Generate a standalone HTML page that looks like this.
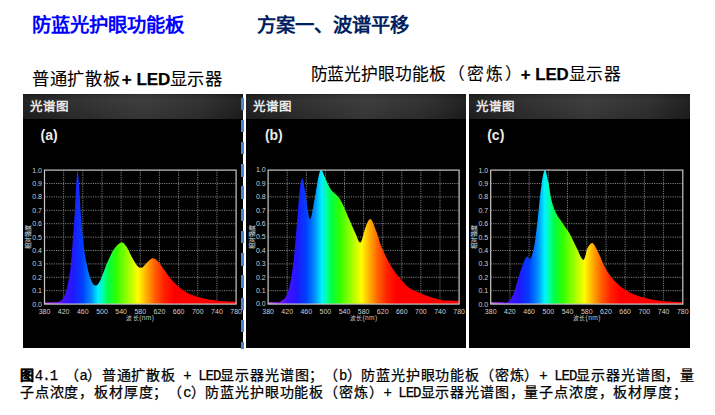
<!DOCTYPE html>
<html lang="zh-CN"><head><meta charset="utf-8">
<style>
html,body{margin:0;padding:0;background:#fff;}
body{width:715px;height:415px;position:relative;overflow:hidden;text-spacing-trim:space-all;font-family:"Liberation Sans",sans-serif;}
.t{position:absolute;white-space:nowrap;line-height:1;}
.panel{position:absolute;top:94px;height:254px;background:#000;overflow:hidden;}
.hdr{position:absolute;left:0;top:0;right:0;height:24.8px;background:linear-gradient(180deg,rgba(0,0,0,0.25) 0px,rgba(0,0,0,0) 1.5px,rgba(255,255,255,0.03) 6px,rgba(0,0,0,0.04) 24px),linear-gradient(90deg,#1e1e1e 0%,#2a2a2a 20%,#383838 55%,#2c2c2c 82%,#1c1c1c 100%);}
.ht{position:absolute;left:7px;top:6.6px;font-size:12.5px;letter-spacing:0px;font-weight:bold;color:#e8e8e8;line-height:1;}
.lab{position:absolute;top:33.6px;font-size:14px;font-weight:bold;color:#ececec;line-height:1;}
.dash{position:absolute;left:241px;width:3px;background:#4a86d0;}
.gap{position:absolute;background:#fff;}
.cap{-webkit-text-stroke:0.25px #000;font-size:14px;letter-spacing:0.83px;color:#000;}
.m{font-family:"Liberation Mono",monospace;font-size:14px;letter-spacing:-0.97px;}
</style></head><body>
<div class="t" style="left:31.5px;top:16px;font-size:19.3px;font-weight:bold;color:#0000ff;">防蓝光护眼功能板</div>
<div class="t" style="left:257px;top:16px;font-size:19.3px;font-weight:bold;color:#002060;">方案一、波谱平移</div>
<div class="t" style="left:32px;top:71px;font-size:17.3px;color:#000;-webkit-text-stroke:0.1px #000;"><span style="letter-spacing:0.65px">普通扩散</span>板 <b style="font-size:17px;margin-left:-2.7px;-webkit-text-stroke:0.25px #000;">+ LED</b><span style="letter-spacing:0.1px">显示</span>器</div>
<div class="t" style="left:310.5px;top:67px;font-size:16.8px;color:#000;-webkit-text-stroke:0.1px #000;letter-spacing:-0.1px;">防蓝光护眼功能板 <span style="margin-left:-2px;letter-spacing:2px">（密炼</span>）<b style="font-size:16.8px;margin-left:-1.5px;letter-spacing:0;-webkit-text-stroke:0.25px #000;">+ LED</b><span style="letter-spacing:0.4px">显示</span>器</div>
<div class="panel" style="left:23px;width:219.50px">
<div class="hdr"><span class="ht">光谱图</span></div>
<svg width="219.50" height="254" viewBox="0 0 219.50 254" style="position:absolute;left:0;top:0">
<defs><linearGradient id="spa" gradientUnits="userSpaceOnUse" x1="21.50" y1="0" x2="213.10" y2="0">
<stop offset="0.0000" stop-color="#d060e0"/>
<stop offset="0.0375" stop-color="#a030f0"/>
<stop offset="0.0750" stop-color="#7010f8"/>
<stop offset="0.1000" stop-color="#4410ff"/>
<stop offset="0.1500" stop-color="#2018ff"/>
<stop offset="0.2000" stop-color="#0040ff"/>
<stop offset="0.2450" stop-color="#0090ff"/>
<stop offset="0.2800" stop-color="#00f0ff"/>
<stop offset="0.3050" stop-color="#00ffa8"/>
<stop offset="0.3300" stop-color="#00ff48"/>
<stop offset="0.3750" stop-color="#30ff00"/>
<stop offset="0.4375" stop-color="#a0ff00"/>
<stop offset="0.4875" stop-color="#ffff00"/>
<stop offset="0.5300" stop-color="#ffb000"/>
<stop offset="0.5750" stop-color="#ff6000"/>
<stop offset="0.6250" stop-color="#ff2000"/>
<stop offset="0.6750" stop-color="#ff0000"/>
<stop offset="1.0000" stop-color="#ff0000"/>
</linearGradient></defs>
<line x1="21.50" y1="89.50" x2="213.10" y2="89.50" stroke="#8a8a8a" stroke-width="0.9" stroke-dasharray="1.2,1.1"/>
<line x1="21.50" y1="102.90" x2="213.10" y2="102.90" stroke="#8a8a8a" stroke-width="0.9" stroke-dasharray="1.2,1.1"/>
<line x1="21.50" y1="116.30" x2="213.10" y2="116.30" stroke="#8a8a8a" stroke-width="0.9" stroke-dasharray="1.2,1.1"/>
<line x1="21.50" y1="129.70" x2="213.10" y2="129.70" stroke="#8a8a8a" stroke-width="0.9" stroke-dasharray="1.2,1.1"/>
<line x1="21.50" y1="143.10" x2="213.10" y2="143.10" stroke="#8a8a8a" stroke-width="0.9" stroke-dasharray="1.2,1.1"/>
<line x1="21.50" y1="156.50" x2="213.10" y2="156.50" stroke="#8a8a8a" stroke-width="0.9" stroke-dasharray="1.2,1.1"/>
<line x1="21.50" y1="169.90" x2="213.10" y2="169.90" stroke="#8a8a8a" stroke-width="0.9" stroke-dasharray="1.2,1.1"/>
<line x1="21.50" y1="183.30" x2="213.10" y2="183.30" stroke="#8a8a8a" stroke-width="0.9" stroke-dasharray="1.2,1.1"/>
<line x1="21.50" y1="196.70" x2="213.10" y2="196.70" stroke="#8a8a8a" stroke-width="0.9" stroke-dasharray="1.2,1.1"/>
<line x1="40.66" y1="76.10" x2="40.66" y2="210.10" stroke="#8a8a8a" stroke-width="0.9" stroke-dasharray="1.2,1.1"/>
<line x1="59.82" y1="76.10" x2="59.82" y2="210.10" stroke="#8a8a8a" stroke-width="0.9" stroke-dasharray="1.2,1.1"/>
<line x1="78.98" y1="76.10" x2="78.98" y2="210.10" stroke="#8a8a8a" stroke-width="0.9" stroke-dasharray="1.2,1.1"/>
<line x1="98.14" y1="76.10" x2="98.14" y2="210.10" stroke="#8a8a8a" stroke-width="0.9" stroke-dasharray="1.2,1.1"/>
<line x1="117.30" y1="76.10" x2="117.30" y2="210.10" stroke="#8a8a8a" stroke-width="0.9" stroke-dasharray="1.2,1.1"/>
<line x1="136.46" y1="76.10" x2="136.46" y2="210.10" stroke="#8a8a8a" stroke-width="0.9" stroke-dasharray="1.2,1.1"/>
<line x1="155.62" y1="76.10" x2="155.62" y2="210.10" stroke="#8a8a8a" stroke-width="0.9" stroke-dasharray="1.2,1.1"/>
<line x1="174.78" y1="76.10" x2="174.78" y2="210.10" stroke="#8a8a8a" stroke-width="0.9" stroke-dasharray="1.2,1.1"/>
<line x1="193.94" y1="76.10" x2="193.94" y2="210.10" stroke="#8a8a8a" stroke-width="0.9" stroke-dasharray="1.2,1.1"/>
<path d="M21.50,208.49 C23.10,208.47 28.53,208.58 31.08,208.36 C33.63,208.13 35.23,207.98 36.83,207.15 C38.42,206.33 39.46,205.59 40.66,203.40 C41.86,201.21 42.86,199.16 44.01,194.02 C45.17,188.88 46.41,183.75 47.61,172.58 C48.80,161.41 50.28,140.42 51.20,127.02 C52.12,113.62 52.56,100.55 53.11,92.18 C53.67,83.80 54.07,77.22 54.55,76.77 C55.03,76.32 55.40,81.73 55.99,89.50 C56.58,97.27 57.16,111.92 58.10,123.40 C59.03,134.88 60.13,148.48 61.59,158.38 C63.05,168.27 65.11,177.25 66.86,182.76 C68.61,188.28 70.33,190.89 72.08,191.47 C73.83,192.05 75.32,190.07 77.35,186.25 C79.38,182.43 81.93,173.81 84.25,168.56 C86.56,163.31 88.90,158.11 91.24,154.76 C93.58,151.41 96.26,148.84 98.28,148.46 C100.31,148.08 101.52,149.80 103.41,152.48 C105.30,155.16 107.80,161.30 109.64,164.54 C111.47,167.78 112.88,170.39 114.43,171.91 C115.97,173.43 117.29,174.26 118.93,173.65 C120.57,173.05 122.47,169.86 124.25,168.29 C126.02,166.73 127.79,164.45 129.56,164.27 C131.33,164.09 132.88,165.23 134.88,167.22 C136.88,169.21 139.10,172.94 141.54,176.20 C143.97,179.46 146.40,183.46 149.49,186.78 C152.58,190.11 156.55,193.73 160.07,196.16 C163.60,198.60 167.12,199.98 170.66,201.39 C174.20,202.80 177.31,203.71 181.29,204.61 C185.28,205.50 190.86,206.28 194.56,206.75 C198.27,207.22 200.83,207.31 203.52,207.42 C206.21,207.53 209.11,207.31 210.71,207.42 C212.30,207.53 212.70,207.98 213.10,208.09 L213.10,210.10 L21.50,210.10 Z" fill="url(#spa)"/>
<rect x="21.50" y="76.10" width="191.60" height="134.00" fill="none" stroke="#c8c8c8" stroke-width="1.2"/>
<text x="19.00" y="212.50" text-anchor="end" font-size="7" fill="#d0d0d0">0.0</text>
<text x="19.00" y="199.10" text-anchor="end" font-size="7" fill="#d0d0d0">0.1</text>
<text x="19.00" y="185.70" text-anchor="end" font-size="7" fill="#d0d0d0">0.2</text>
<text x="19.00" y="172.30" text-anchor="end" font-size="7" fill="#d0d0d0">0.3</text>
<text x="19.00" y="158.90" text-anchor="end" font-size="7" fill="#d0d0d0">0.4</text>
<text x="19.00" y="145.50" text-anchor="end" font-size="7" fill="#d0d0d0">0.5</text>
<text x="19.00" y="132.10" text-anchor="end" font-size="7" fill="#d0d0d0">0.6</text>
<text x="19.00" y="118.70" text-anchor="end" font-size="7" fill="#d0d0d0">0.7</text>
<text x="19.00" y="105.30" text-anchor="end" font-size="7" fill="#d0d0d0">0.8</text>
<text x="19.00" y="91.90" text-anchor="end" font-size="7" fill="#d0d0d0">0.9</text>
<text x="19.00" y="78.50" text-anchor="end" font-size="7" fill="#d0d0d0">1.0</text>
<text x="21.50" y="220.10" text-anchor="middle" font-size="7" fill="#d0d0d0">380</text>
<text x="40.66" y="220.10" text-anchor="middle" font-size="7" fill="#d0d0d0">420</text>
<text x="59.82" y="220.10" text-anchor="middle" font-size="7" fill="#d0d0d0">460</text>
<text x="78.98" y="220.10" text-anchor="middle" font-size="7" fill="#d0d0d0">500</text>
<text x="98.14" y="220.10" text-anchor="middle" font-size="7" fill="#d0d0d0">540</text>
<text x="117.30" y="220.10" text-anchor="middle" font-size="7" fill="#d0d0d0">580</text>
<text x="136.46" y="220.10" text-anchor="middle" font-size="7" fill="#d0d0d0">620</text>
<text x="155.62" y="220.10" text-anchor="middle" font-size="7" fill="#d0d0d0">660</text>
<text x="174.78" y="220.10" text-anchor="middle" font-size="7" fill="#d0d0d0">700</text>
<text x="193.94" y="220.10" text-anchor="middle" font-size="7" fill="#d0d0d0">740</text>
<text x="213.10" y="220.10" text-anchor="middle" font-size="7" fill="#d0d0d0">780</text>
<text x="117.30" y="226.40" text-anchor="middle" font-size="6.6" letter-spacing="0.4" fill="#c8c8c8"><tspan font-size="5.8">波长</tspan>(nm)</text>
<text transform="translate(7.00,143.10) rotate(-90)" text-anchor="middle" font-size="6" fill="#c8c8c8" stroke="#c8c8c8" stroke-width="0.15">相对强度</text>
</svg>
<div class="lab" style="left:17.60px">(a)</div>
</div>
<div class="panel" style="left:245.7px;width:220.30px">
<div class="hdr"><span class="ht">光谱图</span></div>
<svg width="220.30" height="254" viewBox="0 0 220.30 254" style="position:absolute;left:0;top:0">
<defs><linearGradient id="spb" gradientUnits="userSpaceOnUse" x1="22.10" y1="0" x2="213.10" y2="0">
<stop offset="0.0000" stop-color="#d060e0"/>
<stop offset="0.0375" stop-color="#a030f0"/>
<stop offset="0.0750" stop-color="#7010f8"/>
<stop offset="0.1000" stop-color="#4410ff"/>
<stop offset="0.1500" stop-color="#2018ff"/>
<stop offset="0.2000" stop-color="#0040ff"/>
<stop offset="0.2450" stop-color="#0090ff"/>
<stop offset="0.2800" stop-color="#00f0ff"/>
<stop offset="0.3050" stop-color="#00ffa8"/>
<stop offset="0.3300" stop-color="#00ff48"/>
<stop offset="0.3750" stop-color="#30ff00"/>
<stop offset="0.4375" stop-color="#a0ff00"/>
<stop offset="0.4875" stop-color="#ffff00"/>
<stop offset="0.5300" stop-color="#ffb000"/>
<stop offset="0.5750" stop-color="#ff6000"/>
<stop offset="0.6250" stop-color="#ff2000"/>
<stop offset="0.6750" stop-color="#ff0000"/>
<stop offset="1.0000" stop-color="#ff0000"/>
</linearGradient></defs>
<line x1="22.10" y1="89.50" x2="213.10" y2="89.50" stroke="#8a8a8a" stroke-width="0.9" stroke-dasharray="1.2,1.1"/>
<line x1="22.10" y1="102.90" x2="213.10" y2="102.90" stroke="#8a8a8a" stroke-width="0.9" stroke-dasharray="1.2,1.1"/>
<line x1="22.10" y1="116.30" x2="213.10" y2="116.30" stroke="#8a8a8a" stroke-width="0.9" stroke-dasharray="1.2,1.1"/>
<line x1="22.10" y1="129.70" x2="213.10" y2="129.70" stroke="#8a8a8a" stroke-width="0.9" stroke-dasharray="1.2,1.1"/>
<line x1="22.10" y1="143.10" x2="213.10" y2="143.10" stroke="#8a8a8a" stroke-width="0.9" stroke-dasharray="1.2,1.1"/>
<line x1="22.10" y1="156.50" x2="213.10" y2="156.50" stroke="#8a8a8a" stroke-width="0.9" stroke-dasharray="1.2,1.1"/>
<line x1="22.10" y1="169.90" x2="213.10" y2="169.90" stroke="#8a8a8a" stroke-width="0.9" stroke-dasharray="1.2,1.1"/>
<line x1="22.10" y1="183.30" x2="213.10" y2="183.30" stroke="#8a8a8a" stroke-width="0.9" stroke-dasharray="1.2,1.1"/>
<line x1="22.10" y1="196.70" x2="213.10" y2="196.70" stroke="#8a8a8a" stroke-width="0.9" stroke-dasharray="1.2,1.1"/>
<line x1="41.20" y1="76.10" x2="41.20" y2="210.10" stroke="#8a8a8a" stroke-width="0.9" stroke-dasharray="1.2,1.1"/>
<line x1="60.30" y1="76.10" x2="60.30" y2="210.10" stroke="#8a8a8a" stroke-width="0.9" stroke-dasharray="1.2,1.1"/>
<line x1="79.40" y1="76.10" x2="79.40" y2="210.10" stroke="#8a8a8a" stroke-width="0.9" stroke-dasharray="1.2,1.1"/>
<line x1="98.50" y1="76.10" x2="98.50" y2="210.10" stroke="#8a8a8a" stroke-width="0.9" stroke-dasharray="1.2,1.1"/>
<line x1="117.60" y1="76.10" x2="117.60" y2="210.10" stroke="#8a8a8a" stroke-width="0.9" stroke-dasharray="1.2,1.1"/>
<line x1="136.70" y1="76.10" x2="136.70" y2="210.10" stroke="#8a8a8a" stroke-width="0.9" stroke-dasharray="1.2,1.1"/>
<line x1="155.80" y1="76.10" x2="155.80" y2="210.10" stroke="#8a8a8a" stroke-width="0.9" stroke-dasharray="1.2,1.1"/>
<line x1="174.90" y1="76.10" x2="174.90" y2="210.10" stroke="#8a8a8a" stroke-width="0.9" stroke-dasharray="1.2,1.1"/>
<line x1="194.00" y1="76.10" x2="194.00" y2="210.10" stroke="#8a8a8a" stroke-width="0.9" stroke-dasharray="1.2,1.1"/>
<path d="M22.10,208.49 C23.29,208.47 27.23,208.49 29.26,208.36 C31.29,208.22 32.29,209.07 34.28,207.69 C36.27,206.30 39.17,205.39 41.20,200.05 C43.23,194.71 44.99,185.53 46.45,175.66 C47.92,165.79 48.82,153.62 49.99,140.82 C51.16,128.03 52.42,108.33 53.47,98.88 C54.52,89.43 55.30,84.14 56.29,84.14 C57.28,84.14 58.12,92.07 59.39,98.88 C60.67,105.69 62.41,123.89 63.93,125.01 C65.45,126.13 67.05,112.84 68.51,105.58 C69.98,98.32 71.55,86.37 72.72,81.46 C73.88,76.55 74.33,75.52 75.48,76.10 C76.64,76.68 78.07,81.73 79.64,84.94 C81.21,88.16 83.15,92.78 84.89,95.40 C86.63,98.01 88.36,98.59 90.10,100.62 C91.83,102.65 93.26,103.82 95.30,107.59 C97.34,111.36 99.99,118.02 102.32,123.27 C104.65,128.52 107.26,134.88 109.29,139.08 C111.32,143.28 112.75,149.58 114.50,148.46 C116.25,147.34 118.09,136.27 119.80,132.38 C121.50,128.49 122.93,124.25 124.71,125.14 C126.50,126.04 128.65,132.96 130.49,137.74 C132.34,142.52 133.57,148.46 135.79,153.82 C138.01,159.18 141.16,165.28 143.81,169.90 C146.46,174.52 148.61,177.67 151.69,181.56 C154.77,185.44 158.76,190.38 162.29,193.22 C165.83,196.05 169.44,197.01 172.89,198.58 C176.35,200.14 179.50,201.41 183.02,202.60 C186.54,203.78 190.74,205.01 194.00,205.68 C197.26,206.35 199.41,206.42 202.60,206.62 C205.78,206.82 211.35,206.84 213.10,206.88 L213.10,210.10 L22.10,210.10 Z" fill="url(#spb)"/>
<rect x="22.10" y="76.10" width="191.00" height="134.00" fill="none" stroke="#c8c8c8" stroke-width="1.2"/>
<text x="19.60" y="212.50" text-anchor="end" font-size="7" fill="#d0d0d0">0.0</text>
<text x="19.60" y="199.10" text-anchor="end" font-size="7" fill="#d0d0d0">0.1</text>
<text x="19.60" y="185.70" text-anchor="end" font-size="7" fill="#d0d0d0">0.2</text>
<text x="19.60" y="172.30" text-anchor="end" font-size="7" fill="#d0d0d0">0.3</text>
<text x="19.60" y="158.90" text-anchor="end" font-size="7" fill="#d0d0d0">0.4</text>
<text x="19.60" y="145.50" text-anchor="end" font-size="7" fill="#d0d0d0">0.5</text>
<text x="19.60" y="132.10" text-anchor="end" font-size="7" fill="#d0d0d0">0.6</text>
<text x="19.60" y="118.70" text-anchor="end" font-size="7" fill="#d0d0d0">0.7</text>
<text x="19.60" y="105.30" text-anchor="end" font-size="7" fill="#d0d0d0">0.8</text>
<text x="19.60" y="91.90" text-anchor="end" font-size="7" fill="#d0d0d0">0.9</text>
<text x="19.60" y="78.50" text-anchor="end" font-size="7" fill="#d0d0d0">1.0</text>
<text x="22.10" y="220.10" text-anchor="middle" font-size="7" fill="#d0d0d0">380</text>
<text x="41.20" y="220.10" text-anchor="middle" font-size="7" fill="#d0d0d0">420</text>
<text x="60.30" y="220.10" text-anchor="middle" font-size="7" fill="#d0d0d0">460</text>
<text x="79.40" y="220.10" text-anchor="middle" font-size="7" fill="#d0d0d0">500</text>
<text x="98.50" y="220.10" text-anchor="middle" font-size="7" fill="#d0d0d0">540</text>
<text x="117.60" y="220.10" text-anchor="middle" font-size="7" fill="#d0d0d0">580</text>
<text x="136.70" y="220.10" text-anchor="middle" font-size="7" fill="#d0d0d0">620</text>
<text x="155.80" y="220.10" text-anchor="middle" font-size="7" fill="#d0d0d0">660</text>
<text x="174.90" y="220.10" text-anchor="middle" font-size="7" fill="#d0d0d0">700</text>
<text x="194.00" y="220.10" text-anchor="middle" font-size="7" fill="#d0d0d0">740</text>
<text x="213.10" y="220.10" text-anchor="middle" font-size="7" fill="#d0d0d0">780</text>
<text x="117.60" y="226.40" text-anchor="middle" font-size="6.6" letter-spacing="0.4" fill="#c8c8c8"><tspan font-size="5.8">波长</tspan>(nm)</text>
<text transform="translate(7.60,143.10) rotate(-90)" text-anchor="middle" font-size="6" fill="#c8c8c8" stroke="#c8c8c8" stroke-width="0.15">相对强度</text>
</svg>
<div class="lab" style="left:19.20px">(b)</div>
</div>
<div class="panel" style="left:468.7px;width:221.00px">
<div class="hdr"><span class="ht">光谱图</span></div>
<svg width="221.00" height="254" viewBox="0 0 221.00 254" style="position:absolute;left:0;top:0">
<defs><linearGradient id="spc" gradientUnits="userSpaceOnUse" x1="21.70" y1="0" x2="213.80" y2="0">
<stop offset="0.0000" stop-color="#d060e0"/>
<stop offset="0.0375" stop-color="#a030f0"/>
<stop offset="0.0750" stop-color="#7010f8"/>
<stop offset="0.1000" stop-color="#4410ff"/>
<stop offset="0.1500" stop-color="#2018ff"/>
<stop offset="0.2000" stop-color="#0040ff"/>
<stop offset="0.2450" stop-color="#0090ff"/>
<stop offset="0.2800" stop-color="#00f0ff"/>
<stop offset="0.3050" stop-color="#00ffa8"/>
<stop offset="0.3300" stop-color="#00ff48"/>
<stop offset="0.3750" stop-color="#30ff00"/>
<stop offset="0.4375" stop-color="#a0ff00"/>
<stop offset="0.4875" stop-color="#ffff00"/>
<stop offset="0.5300" stop-color="#ffb000"/>
<stop offset="0.5750" stop-color="#ff6000"/>
<stop offset="0.6250" stop-color="#ff2000"/>
<stop offset="0.6750" stop-color="#ff0000"/>
<stop offset="1.0000" stop-color="#ff0000"/>
</linearGradient></defs>
<line x1="21.70" y1="89.50" x2="213.80" y2="89.50" stroke="#8a8a8a" stroke-width="0.9" stroke-dasharray="1.2,1.1"/>
<line x1="21.70" y1="102.90" x2="213.80" y2="102.90" stroke="#8a8a8a" stroke-width="0.9" stroke-dasharray="1.2,1.1"/>
<line x1="21.70" y1="116.30" x2="213.80" y2="116.30" stroke="#8a8a8a" stroke-width="0.9" stroke-dasharray="1.2,1.1"/>
<line x1="21.70" y1="129.70" x2="213.80" y2="129.70" stroke="#8a8a8a" stroke-width="0.9" stroke-dasharray="1.2,1.1"/>
<line x1="21.70" y1="143.10" x2="213.80" y2="143.10" stroke="#8a8a8a" stroke-width="0.9" stroke-dasharray="1.2,1.1"/>
<line x1="21.70" y1="156.50" x2="213.80" y2="156.50" stroke="#8a8a8a" stroke-width="0.9" stroke-dasharray="1.2,1.1"/>
<line x1="21.70" y1="169.90" x2="213.80" y2="169.90" stroke="#8a8a8a" stroke-width="0.9" stroke-dasharray="1.2,1.1"/>
<line x1="21.70" y1="183.30" x2="213.80" y2="183.30" stroke="#8a8a8a" stroke-width="0.9" stroke-dasharray="1.2,1.1"/>
<line x1="21.70" y1="196.70" x2="213.80" y2="196.70" stroke="#8a8a8a" stroke-width="0.9" stroke-dasharray="1.2,1.1"/>
<line x1="40.91" y1="76.10" x2="40.91" y2="210.10" stroke="#8a8a8a" stroke-width="0.9" stroke-dasharray="1.2,1.1"/>
<line x1="60.12" y1="76.10" x2="60.12" y2="210.10" stroke="#8a8a8a" stroke-width="0.9" stroke-dasharray="1.2,1.1"/>
<line x1="79.33" y1="76.10" x2="79.33" y2="210.10" stroke="#8a8a8a" stroke-width="0.9" stroke-dasharray="1.2,1.1"/>
<line x1="98.54" y1="76.10" x2="98.54" y2="210.10" stroke="#8a8a8a" stroke-width="0.9" stroke-dasharray="1.2,1.1"/>
<line x1="117.75" y1="76.10" x2="117.75" y2="210.10" stroke="#8a8a8a" stroke-width="0.9" stroke-dasharray="1.2,1.1"/>
<line x1="136.96" y1="76.10" x2="136.96" y2="210.10" stroke="#8a8a8a" stroke-width="0.9" stroke-dasharray="1.2,1.1"/>
<line x1="156.17" y1="76.10" x2="156.17" y2="210.10" stroke="#8a8a8a" stroke-width="0.9" stroke-dasharray="1.2,1.1"/>
<line x1="175.38" y1="76.10" x2="175.38" y2="210.10" stroke="#8a8a8a" stroke-width="0.9" stroke-dasharray="1.2,1.1"/>
<line x1="194.59" y1="76.10" x2="194.59" y2="210.10" stroke="#8a8a8a" stroke-width="0.9" stroke-dasharray="1.2,1.1"/>
<path d="M21.70,208.49 C23.30,208.47 28.38,208.49 31.30,208.36 C34.23,208.22 37.04,209.07 39.23,207.69 C41.41,206.30 42.67,204.23 44.42,200.05 C46.16,195.87 47.95,188.10 49.70,182.63 C51.45,177.16 53.48,170.59 54.93,167.22 C56.39,163.85 57.39,162.73 58.44,162.40 C59.49,162.06 60.06,167.09 61.22,165.21 C62.39,163.33 64.13,158.13 65.40,151.14 C66.68,144.15 67.71,133.09 68.86,123.27 C70.01,113.44 71.16,100.04 72.32,92.18 C73.48,84.32 74.66,76.77 75.82,76.10 C76.99,75.43 78.16,82.91 79.33,88.16 C80.50,93.41 81.50,102.32 82.84,107.59 C84.17,112.86 85.61,116.28 87.35,119.78 C89.10,123.29 91.15,125.41 93.31,128.63 C95.46,131.84 97.95,135.02 100.27,139.08 C102.59,143.14 104.90,148.55 107.23,153.02 C109.56,157.48 112.33,165.75 114.24,165.88 C116.16,166.01 117.13,156.61 118.71,153.82 C120.30,151.03 121.93,148.24 123.75,149.13 C125.58,150.02 127.80,155.50 129.66,159.18 C131.53,162.87 133.17,167.73 134.94,171.24 C136.71,174.75 138.06,177.18 140.27,180.22 C142.48,183.26 145.12,186.61 148.20,189.46 C151.28,192.32 155.23,195.27 158.76,197.37 C162.29,199.47 165.39,200.72 169.38,202.06 C173.36,203.40 178.26,204.56 182.68,205.41 C187.10,206.26 191.04,206.71 195.89,207.15 C200.74,207.60 208.80,207.93 211.78,208.09 C214.77,208.25 213.46,208.09 213.80,208.09 L213.80,210.10 L21.70,210.10 Z" fill="url(#spc)"/>
<rect x="21.70" y="76.10" width="192.10" height="134.00" fill="none" stroke="#c8c8c8" stroke-width="1.2"/>
<text x="19.20" y="212.50" text-anchor="end" font-size="7" fill="#d0d0d0">0.0</text>
<text x="19.20" y="199.10" text-anchor="end" font-size="7" fill="#d0d0d0">0.1</text>
<text x="19.20" y="185.70" text-anchor="end" font-size="7" fill="#d0d0d0">0.2</text>
<text x="19.20" y="172.30" text-anchor="end" font-size="7" fill="#d0d0d0">0.3</text>
<text x="19.20" y="158.90" text-anchor="end" font-size="7" fill="#d0d0d0">0.4</text>
<text x="19.20" y="145.50" text-anchor="end" font-size="7" fill="#d0d0d0">0.5</text>
<text x="19.20" y="132.10" text-anchor="end" font-size="7" fill="#d0d0d0">0.6</text>
<text x="19.20" y="118.70" text-anchor="end" font-size="7" fill="#d0d0d0">0.7</text>
<text x="19.20" y="105.30" text-anchor="end" font-size="7" fill="#d0d0d0">0.8</text>
<text x="19.20" y="91.90" text-anchor="end" font-size="7" fill="#d0d0d0">0.9</text>
<text x="19.20" y="78.50" text-anchor="end" font-size="7" fill="#d0d0d0">1.0</text>
<text x="21.70" y="220.10" text-anchor="middle" font-size="7" fill="#d0d0d0">380</text>
<text x="40.91" y="220.10" text-anchor="middle" font-size="7" fill="#d0d0d0">420</text>
<text x="60.12" y="220.10" text-anchor="middle" font-size="7" fill="#d0d0d0">460</text>
<text x="79.33" y="220.10" text-anchor="middle" font-size="7" fill="#d0d0d0">500</text>
<text x="98.54" y="220.10" text-anchor="middle" font-size="7" fill="#d0d0d0">540</text>
<text x="117.75" y="220.10" text-anchor="middle" font-size="7" fill="#d0d0d0">580</text>
<text x="136.96" y="220.10" text-anchor="middle" font-size="7" fill="#d0d0d0">620</text>
<text x="156.17" y="220.10" text-anchor="middle" font-size="7" fill="#d0d0d0">660</text>
<text x="175.38" y="220.10" text-anchor="middle" font-size="7" fill="#d0d0d0">700</text>
<text x="194.59" y="220.10" text-anchor="middle" font-size="7" fill="#d0d0d0">740</text>
<text x="213.80" y="220.10" text-anchor="middle" font-size="7" fill="#d0d0d0">780</text>
<text x="117.75" y="226.40" text-anchor="middle" font-size="6.6" letter-spacing="0.4" fill="#c8c8c8"><tspan font-size="5.8">波长</tspan>(nm)</text>
<text transform="translate(7.20,143.10) rotate(-90)" text-anchor="middle" font-size="6" fill="#c8c8c8" stroke="#c8c8c8" stroke-width="0.15">相对强度</text>
</svg>
<div class="lab" style="left:18.50px">(c)</div>
</div>
<div class="dash" style="top:97.50px;height:12.50px"></div><div class="dash" style="top:119.73px;height:12.50px"></div><div class="dash" style="top:141.96px;height:12.50px"></div><div class="dash" style="top:164.19px;height:12.50px"></div><div class="dash" style="top:186.42px;height:12.50px"></div><div class="dash" style="top:208.65px;height:12.50px"></div><div class="dash" style="top:230.88px;height:12.50px"></div><div class="dash" style="top:253.11px;height:12.50px"></div><div class="dash" style="top:275.34px;height:12.50px"></div><div class="dash" style="top:297.57px;height:12.50px"></div><div class="dash" style="top:319.80px;height:12.50px"></div><div class="dash" style="top:342.03px;height:6.97px"></div>
<div class="t cap" style="left:20px;top:367.5px;"><b>图</b><span class="m">4.1 </span>（<span class="m">a</span>）普通扩散板<span class="m"> + LED</span>显示器光谱图；（<span class="m">b</span>）防蓝光护眼功能板（密炼）<span class="m">+ LED</span>显示器光谱图，量</div>
<div class="t cap" style="left:20px;top:384.5px;letter-spacing:0.83px;">子点浓度，板材厚度；（<span class="m">c</span>）防蓝光护眼功能板（密炼）<span class="m">+ LED</span>显示器光谱图，量子点浓度，板材厚度；</div>
</body></html>
